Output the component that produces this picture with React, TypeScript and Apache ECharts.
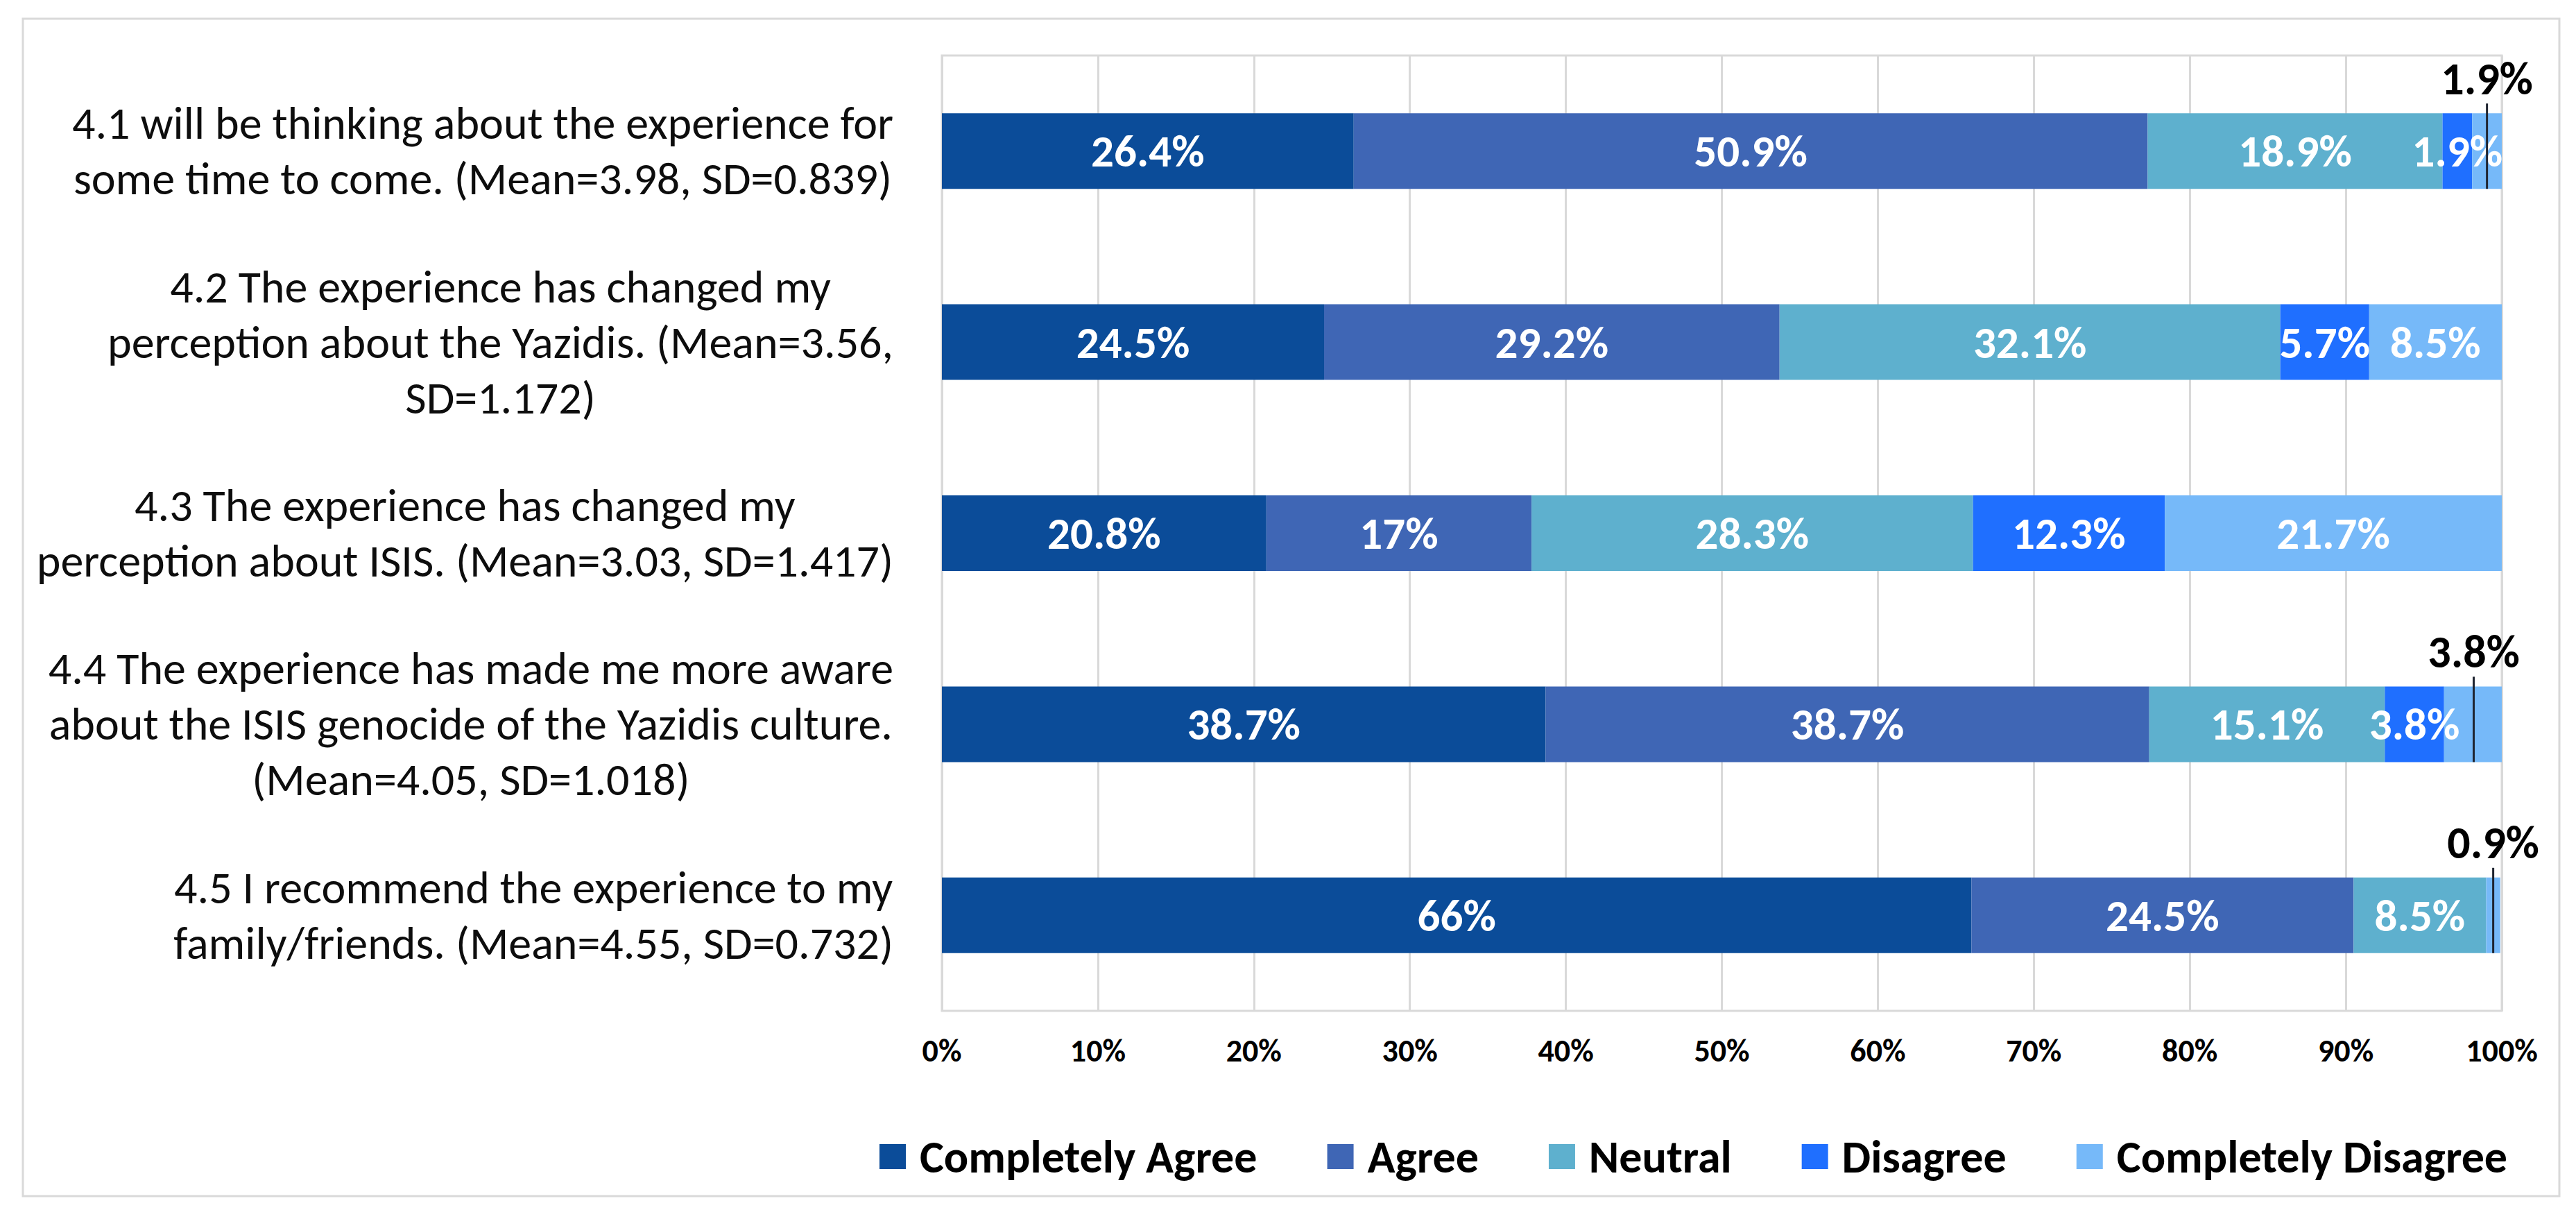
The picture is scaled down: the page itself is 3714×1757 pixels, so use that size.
import React, { useEffect, useRef } from 'react'
import * as echarts from 'echarts'

const FONT = 'Carlito, Calibri, Lato, sans-serif'

// questionnaire items, top to bottom
const items = [
  '4.1 will be thinking about the experience for\nsome time to come. (Mean=3.98, SD=0.839)',
  '4.2 The experience has changed my\nperception about the Yazidis. (Mean=3.56,\nSD=1.172)',
  '4.3 The experience has changed my\nperception about ISIS. (Mean=3.03, SD=1.417)',
  '4.4 The experience has made me more aware\nabout the ISIS genocide of the Yazidis culture.\n(Mean=4.05, SD=1.018)',
  '4.5 I recommend the experience to my\nfamily/friends. (Mean=4.55, SD=0.732)'
]

const answers = ['Completely Agree', 'Agree', 'Neutral', 'Disagree', 'Completely Disagree']
const colors = ['#0B4C99', '#3F66B5', '#5EB0CE', '#1F6FFF', '#76B9F9']

// percentages per answer, one value per item
const completelyAgree = [26.4, 24.5, 20.8, 38.7, 66]
const agree = [50.9, 29.2, 17, 38.7, 24.5]
const neutral = [18.9, 32.1, 28.3, 15.1, 8.5]
const disagree = [1.9, 5.7, 12.3, 3.8, 0]
const completelyDisagree = [1.9, 8.5, 21.7, 3.8, 0.9]

const seriesValues = [completelyAgree, agree, neutral, disagree, completelyDisagree]

// items whose last segment is labelled outside the bar with a leader line
const calloutRows = [0, 3, 4]

const xTicks = [0, 10, 20, 30, 40, 50, 60, 70, 80, 90, 100]

const BAR_W = 109

const App: React.FC = () => {
  const chartRef = useRef<HTMLDivElement>(null)

  useEffect(() => {
    document.body.style.margin = '0'
    if (!chartRef.current) return
    const chart = echarts.init(chartRef.current, undefined, { renderer: 'svg' })

    const barSeries = seriesValues.map((vals, si) => ({
      name: answers[si],
      type: 'bar',
      stack: 'total',
      barWidth: BAR_W,
      itemStyle: { color: colors[si] },
      data: vals.map((v, row) => ({
        value: v,
        label: {
          show: v > 0 && !(si === 4 && calloutRows.includes(row))
        }
      })),
      label: {
        position: 'inside',
        color: '#ffffff',
        fontFamily: FONT,
        fontWeight: 'bold',
        fontSize: 65,
        formatter: (p: any) => `${p.value}%`
      }
    }))

    const calloutData = calloutRows.map((row) => {
      const before = seriesValues.slice(0, 4).reduce((s, arr) => s + arr[row], 0)
      return [before + completelyDisagree[row] / 2, row]
    })

    const calloutSeries = {
      type: 'custom',
      name: 'callout',
      coordinateSystem: 'cartesian2d',
      z: 10,
      silent: true,
      encode: { x: 0, y: 1 },
      data: calloutData,
      renderItem: (params: any, api: any) => {
        const p = api.coord([api.value(0), api.value(1)])
        const half = BAR_W / 2
        const row = calloutRows[params.dataIndex]
        return {
          type: 'group',
          children: [
            {
              type: 'line',
              shape: { x1: p[0], y1: p[1] + half, x2: p[0], y2: p[1] - half - 14 },
              style: { stroke: '#1f2430', lineWidth: 3 }
            },
            {
              type: 'text',
              x: p[0],
              y: p[1] - half - 50,
              style: {
                text: `${completelyDisagree[row]}%`,
                fill: '#000000',
                fontFamily: FONT,
                fontWeight: 'bold',
                fontSize: 66,
                align: 'center',
                verticalAlign: 'middle'
              }
            }
          ]
        }
      }
    }

    const option = {
      animation: false,
      backgroundColor: '#ffffff',
      graphic: [
        {
          type: 'rect',
          shape: { x: 33, y: 27, width: 3657, height: 1697 },
          style: { fill: 'none', stroke: '#D9D9D9', lineWidth: 3 },
          silent: true
        }
      ],
      legend: {
        data: answers,
        left: 1263,
        top: 1622,
        icon: 'rect',
        itemWidth: 38,
        itemHeight: 36,
        itemGap: 101,
        formatter: (name: string) => ` ${name}`,
        textStyle: {
          color: '#000000',
          fontFamily: FONT,
          fontWeight: 'bold',
          fontSize: 66,
          lineHeight: 80
        }
      },
      grid: {
        left: 1358,
        right: 107,
        top: 80,
        bottom: 300,
        show: true,
        borderColor: '#D9D9D9',
        borderWidth: 3,
        backgroundColor: '#ffffff'
      },
      xAxis: {
        type: 'value',
        min: xTicks[0],
        max: xTicks[xTicks.length - 1],
        interval: 10,
        axisLine: { show: false },
        axisTick: { show: false },
        splitLine: { show: true, lineStyle: { color: '#D9D9D9', width: 3 } },
        axisLabel: {
          margin: 34,
          color: '#000000',
          fontFamily: FONT,
          fontWeight: 'bold',
          fontSize: 46,
          formatter: '{value}%'
        }
      },
      yAxis: {
        type: 'category',
        inverse: true,
        data: items,
        axisLine: { show: false },
        axisTick: { show: false },
        splitLine: { show: false },
        axisLabel: {
          margin: 70,
          align: 'right',
          formatter: (v: string) => v.split('\n').map((l) => `{c|${l}}`).join('\n'),
          rich: {
            c: {
              align: 'center',
              color: '#0D0D0D',
              fontFamily: FONT,
              fontSize: 66,
              lineHeight: 80
            }
          }
        }
      },
      series: [...barSeries, calloutSeries]
    }

    chart.setOption(option as any)

    return () => {
      chart.dispose()
    }
  }, [])

  return <div ref={chartRef} style={{ width: '3714px', height: '1757px' }} />
}

export default App
